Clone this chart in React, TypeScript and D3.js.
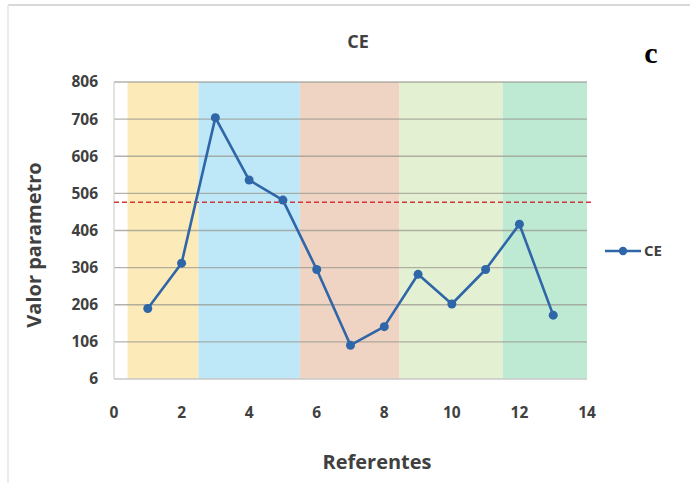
import React from "react";
import * as d3 from "d3";

const referentes = [1, 2, 3, 4, 5, 6, 7, 8, 9, 10, 11, 12, 13];
const ceValues = [196, 318, 710, 542, 488, 301, 97, 147, 288, 208, 301, 423, 178];
const yTicks = [6, 106, 206, 306, 406, 506, 606, 706, 806];
const xTicks = [0, 2, 4, 6, 8, 10, 12, 14];
const thresholdValue = 482;
const bandStarts = [0.4, 2.5, 5.5, 8.45, 11.5];
const bandEnds = [2.5, 5.5, 8.45, 11.5, 14];
const bandColors = ["#FCEAB8", "#BEE7F8", "#EFD3C3", "#E4F0D2", "#BEE9D3"];

export default function App() {
  const W = 690, H = 483;
  const x = d3.scaleLinear().domain([0, 14]).range([114, 587]);
  const y = d3.scaleLinear().domain([6, 806]).range([379, 82]);
  const line = d3.line<number>().x((_, i) => x(referentes[i])).y((d) => y(d));
  const font = "'Open Sans', 'Liberation Sans', sans-serif";
  const textColor = "#404040";
  const lineColor = "#2F66A8";
  return (
    <svg width={W} height={H} style={{ position: "absolute", left: 0, top: 0 }}>
      <rect x={0} y={0} width={W} height={H} fill="#fff" />
      <line x1={8} y1={5} x2={W} y2={5} stroke="#d9d9d9" strokeWidth={2} />
      <line x1={8} y1={5} x2={8} y2={H} stroke="#e6e6e6" strokeWidth={1.5} />
      {bandStarts.map((s, i) => (
        <rect key={i} x={x(s)} y={y(806)} width={x(bandEnds[i]) - x(s)} height={y(6) - y(806)} fill={bandColors[i]} />
      ))}
      {yTicks.map((t) => (
        <g key={t}>
          {t > 6 && <line x1={x(0)} x2={x(14)} y1={y(t)} y2={y(t)} stroke="#9a9a90" strokeOpacity={0.75} strokeWidth={1.3} />}
          <text x={98} y={y(t)} dy="0.35em" textAnchor="end" fontFamily={font} fontWeight={700} fontSize={15.5} fill={textColor}>{t}</text>
        </g>
      ))}
      <line x1={x(0)} x2={x(0)} y1={y(806)} y2={y(6)} stroke="#d0d0d0" strokeWidth={1.2} />
      <line x1={x(0)} x2={x(14)} y1={y(6)} y2={y(6)} stroke="#c8c8c8" strokeWidth={1.5} />
      {xTicks.map((t) => (
        <text key={t} x={x(t)} y={413} dy="0.35em" textAnchor="middle" fontFamily={font} fontWeight={700} fontSize={15.5} fill={textColor}>{t}</text>
      ))}
      <line x1={x(0)} x2={x(14.2)} y1={y(thresholdValue)} y2={y(thresholdValue)} stroke="#D0393A" strokeWidth={1.5} strokeDasharray="5,3" />
      <path d={line(ceValues) || ""} fill="none" stroke={lineColor} strokeWidth={2.6} strokeLinejoin="round" />
      {ceValues.map((v, i) => (
        <circle key={i} cx={x(referentes[i])} cy={y(v)} r={4.5} fill={lineColor} />
      ))}
      <text x={358} y={42} dy="0.35em" textAnchor="middle" fontFamily={font} fontWeight={700} fontSize={18} fill={textColor}>CE</text>
      <text x={651} y={52} dy="0.35em" textAnchor="middle" fontFamily="'Liberation Serif', 'DejaVu Serif', serif" fontWeight={700} fontSize={30} fill="#000">c</text>
      <text transform={`translate(34,245) rotate(-90)`} textAnchor="middle" dy="0.35em" fontFamily={font} fontWeight={700} fontSize={20} fill={textColor}>Valor parametro</text>
      <text x={377} y={462} dy="0.35em" textAnchor="middle" fontFamily={font} fontWeight={700} fontSize={20} fill={textColor}>Referentes</text>
      <line x1={605} x2={641} y1={251} y2={251} stroke={lineColor} strokeWidth={2.6} />
      <circle cx={623} cy={251} r={4.2} fill={lineColor} />
      <text x={644} y={251} dy="0.35em" fontFamily={font} fontWeight={700} fontSize={15} fill={textColor}>CE</text>
    </svg>
  );
}
